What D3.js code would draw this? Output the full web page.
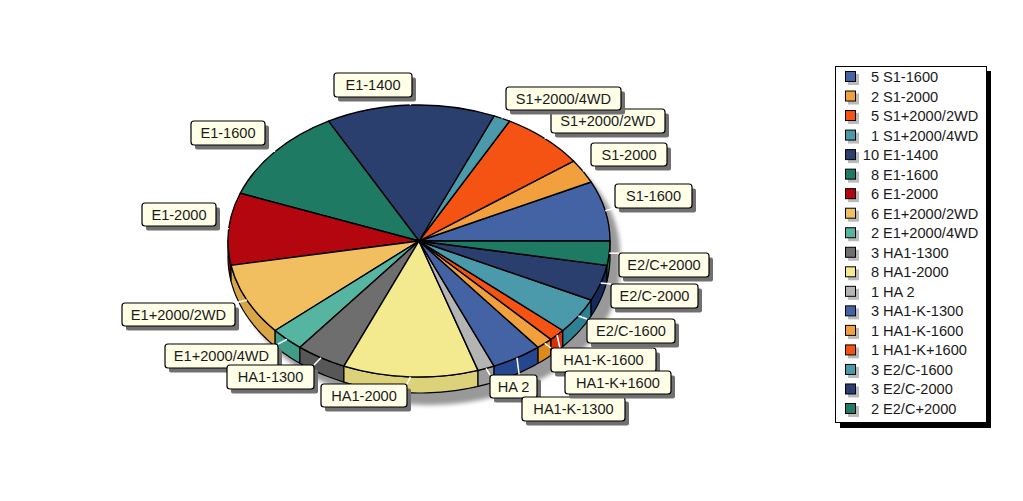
<!DOCTYPE html>
<html><head><meta charset="utf-8">
<script src="https://d3js.org/d3.v7.min.js"></script>
<style>
html,body{margin:0;padding:0;background:#fff;overflow:hidden}
text{font-family:"Liberation Sans",Arial,sans-serif;font-size:14.6px;fill:#1a1a1a}
</style></head><body><svg id="c" width="1023" height="501"></svg>
<script>
const categories=["S1-1600","S1-2000","S1+2000/2WD","S1+2000/4WD","E1-1400","E1-1600","E1-2000","E1+2000/2WD","E1+2000/4WD","HA1-1300","HA1-2000","HA 2","HA1-K-1300","HA1-K-1600","HA1-K+1600","E2/C-1600","E2/C-2000","E2/C+2000"];
const values=[5,2,5,1,10,8,6,6,2,3,8,1,3,1,1,3,3,2];
const colors=["#4463a5","#f2a03d","#f45314","#4b9aab","#2b3f6e","#1e7a62","#b4060f","#f2bf60","#56b5a0","#6e6e6e","#f3e98e","#b4b4b4","#4463a5","#f2a03d","#f45314","#4b9aab","#2b3f6e","#1e7a62"];
const sideColors=["#25478f","#dd8a1c","#d8300f","#2f8093","#15295a","#0f6650","#8a0008","#d9a545","#3f9c87","#575757","#dcd27a","#9c9c9c","#25478f","#dd8a1c","#d8300f","#2f8093","#15295a","#0f6650"];
// label boxes: left, top, right, bottom
const labelBoxes=[[615,184,692,208],[591,143,667,166],[551,109,665,133],[506,87,621,110],[334,73,412,97],[191,121,265,145],[142,203,216,226],[122,303,235,326],[165,344,278,368],[227,365,314,389],[321,384,407,407],[490,375,537,398],[522,397,625,421],[551,348,656,372],[565,371,671,394],[587,319,675,343],[611,284,698,308],[619,253,709,277]];

const svg=d3.select("#c");
const cx=419,cy=241,rx=191,ry=136,depth=16;
const sx=d3.scaleLinear().domain([-1,1]).range([cx-rx,cx+rx]);
const sy=d3.scaleLinear().domain([-1,1]).range([cy+ry,cy-ry]);
const px=a=>sx(Math.sin(a)), py=a=>sy(Math.cos(a));

const defs=svg.append("defs");
defs.append("filter").attr("id","blur").attr("x","-20%").attr("y","-20%").attr("width","140%").attr("height","140%")
  .append("feGaussianBlur").attr("stdDeviation",2.2);

const start=Math.PI/2,end=start-2*Math.PI;
const arcs=d3.pie().sort(null).startAngle(start).endAngle(end)(values);
const line=d3.line();

// drop shadow
const allA=d3.range(0,241).map(i=>i/240*2*Math.PI);
const ellipse=line(allA.map(a=>[px(a),py(a)]))+"Z";
const shade=svg.append("g").attr("transform","translate(10,12)").attr("filter","url(#blur)").attr("fill","#999");
shade.append("path").attr("d",ellipse);
shade.append("path").attr("d",ellipse).attr("transform",`translate(0,${depth})`);
shade.append("rect").attr("x",cx-rx).attr("y",cy).attr("width",2*rx).attr("height",depth);

// sides
const lowHi=-Math.PI/2, lowLo=end;
const sides=svg.append("g");
arcs.forEach((d,i)=>{
  const a0=Math.min(d.startAngle,lowHi), a1=Math.max(d.endAngle,lowLo);
  if(a0<=a1) return;
  const n=Math.max(2,Math.ceil((a0-a1)*40));
  const pts=d3.range(n+1).map(k=>a0+(a1-a0)*k/n);
  const top=pts.map(a=>[px(a),py(a)]);
  const bot=pts.slice().reverse().map(a=>[px(a),py(a)+depth]);
  sides.append("path").attr("d",line(top.concat(bot))+"Z")
    .attr("fill",sideColors[i]).attr("stroke","#000").attr("stroke-width",1.2).attr("stroke-linejoin","round");
});

// top face
const arc=d3.arc().innerRadius(0).outerRadius(1);
const topG=svg.append("g").attr("transform",`translate(${cx},${cy}) scale(${rx},${ry})`);
topG.selectAll("path").data(arcs).join("path")
  .attr("d",arc)
  .attr("fill",(d,i)=>colors[i])
  .attr("stroke","#000").attr("stroke-width",1.4).attr("stroke-linejoin","round")
  .attr("vector-effect","non-scaling-stroke");

// leader lines
const clamp=(v,a,b)=>Math.max(a,Math.min(b,v));
svg.append("g").selectAll("line").data(arcs).join("line")
  .attr("x1",d=>px((d.startAngle+d.endAngle)/2))
  .attr("y1",d=>py((d.startAngle+d.endAngle)/2))
  .attr("x2",(d,i)=>clamp(px((d.startAngle+d.endAngle)/2),labelBoxes[i][0],labelBoxes[i][2]))
  .attr("y2",(d,i)=>clamp(py((d.startAngle+d.endAngle)/2),labelBoxes[i][1],labelBoxes[i][3]))
  .attr("stroke","#fff").attr("stroke-width",1.5);

// labels
const lab=svg.append("g").selectAll("g").data(categories).join("g");
lab.append("rect").attr("x",(d,i)=>labelBoxes[i][0]+4).attr("y",(d,i)=>labelBoxes[i][1]+4.5)
  .attr("width",(d,i)=>labelBoxes[i][2]-labelBoxes[i][0]).attr("height",(d,i)=>labelBoxes[i][3]-labelBoxes[i][1])
  .attr("rx",2).attr("fill","#707070");
lab.append("rect").attr("x",(d,i)=>labelBoxes[i][0]).attr("y",(d,i)=>labelBoxes[i][1])
  .attr("width",(d,i)=>labelBoxes[i][2]-labelBoxes[i][0]).attr("height",(d,i)=>labelBoxes[i][3]-labelBoxes[i][1])
  .attr("rx",3).attr("fill","#ffffe8").attr("stroke","#000").attr("stroke-width",1.2);
lab.append("text").attr("x",(d,i)=>(labelBoxes[i][0]+labelBoxes[i][2])/2).attr("y",(d,i)=>(labelBoxes[i][1]+labelBoxes[i][3])/2+5)
  .attr("text-anchor","middle").text(d=>d);

// legend
const lg=svg.append("g");
lg.append("rect").attr("x",840).attr("y",71).attr("width",151).attr("height",357).attr("fill","#000");
lg.append("rect").attr("x",835.5).attr("y",66.5).attr("width",151).attr("height",356).attr("fill","#fff").attr("stroke","#000");
const rowY=d3.scalePoint().domain(d3.range(categories.length)).range([77,409]);
const row=lg.selectAll("g").data(categories).join("g").attr("transform",(d,i)=>`translate(0,${rowY(i)})`);
row.append("rect").attr("x",848).attr("y",-3).attr("width",11).attr("height",11).attr("fill","#bbb");
row.append("rect").attr("x",845.5).attr("y",-5.5).attr("width",10).attr("height",10).attr("fill",(d,i)=>colors[i]).attr("stroke","#000").attr("stroke-width",1);
row.append("text").attr("x",879).attr("y",5).attr("text-anchor","end").text((d,i)=>values[i]);
row.append("text").attr("x",883).attr("y",5).text(d=>d);
</script></body></html>
